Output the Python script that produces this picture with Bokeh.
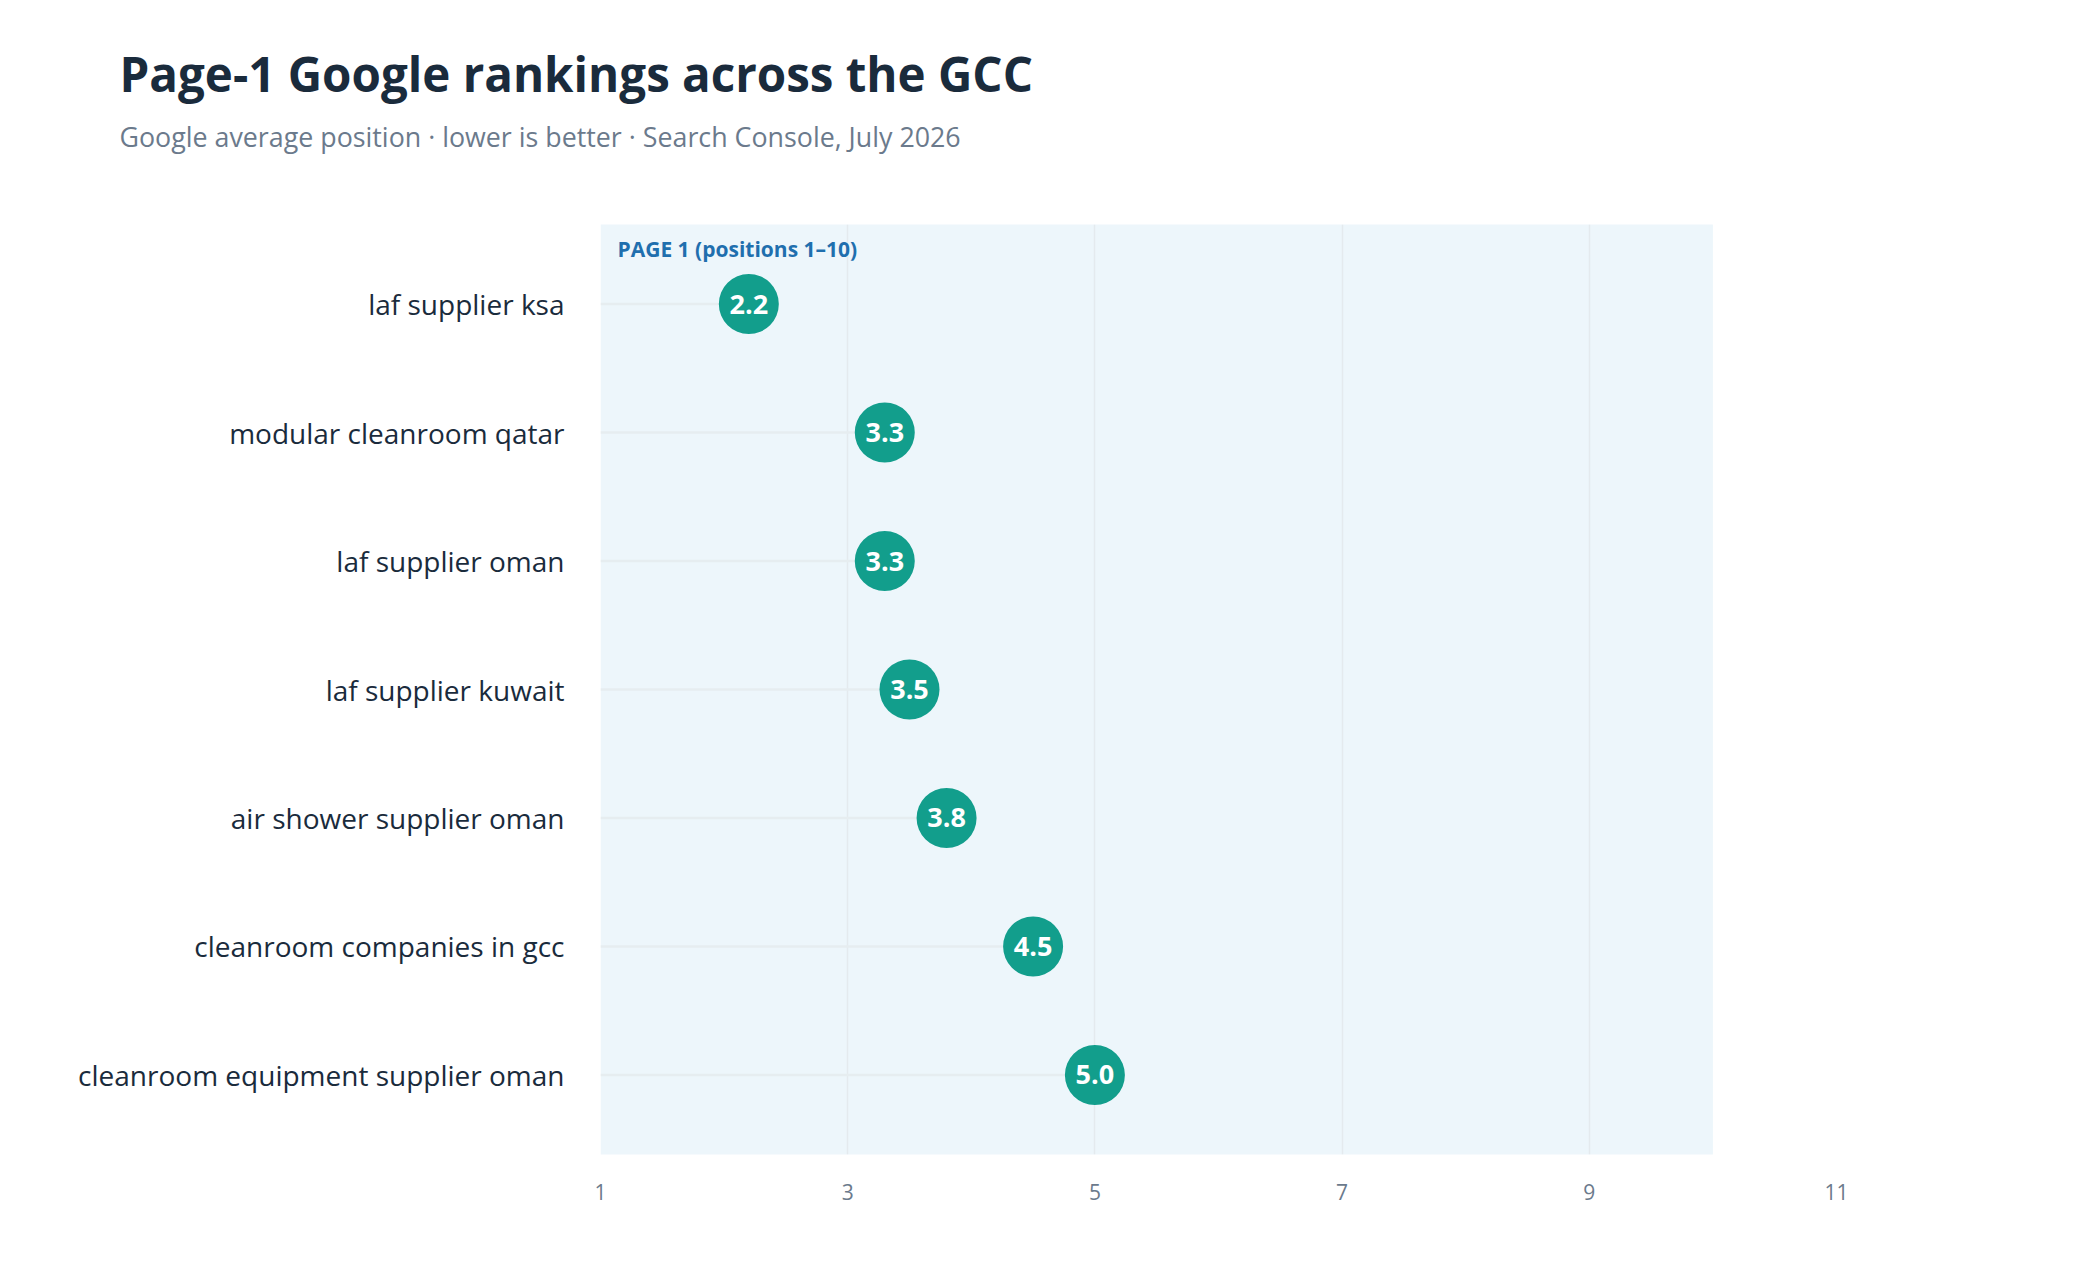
from bokeh.plotting import figure
from bokeh.models import FactorRange, Range1d, FixedTicker, Label, ColumnDataSource, Title
from bokeh.core.properties import value
from bokeh.embed import file_html
from bokeh.resources import INLINE

keywords = [
    "laf supplier ksa",
    "modular cleanroom qatar",
    "laf supplier oman",
    "laf supplier kuwait",
    "air shower supplier oman",
    "cleanroom companies in gcc",
    "cleanroom equipment supplier oman",
]
avg_position = [2.2, 3.3, 3.3, 3.5, 3.8, 4.5, 5.0]
x_ticks = [1, 3, 5, 7, 9, 11]
page1_start, page1_end = 1, 10

TITLE = "Page-1 Google rankings across the GCC"
SUBTITLE = "Google average position \u00b7 lower is better \u00b7 Search Console, July 2026"
BAND_LABEL = "PAGE 1 (positions 1\u201310)"

FONT = "Open Sans"
W, H = 2080, 1280
LEFT, RIGHT, TOP, BOTTOM = 600, 244, 224, 126

src = ColumnDataSource(dict(
    kw=keywords,
    pos=avg_position,
    start=[page1_start] * len(keywords),
    lbl=[f"{v:.1f}" for v in avg_position],
))

p = figure(
    width=W, height=H,
    x_range=Range1d(1, 11),
    y_range=FactorRange(factors=list(reversed(keywords)), range_padding=0.034),
    output_backend="svg", toolbar_location=None,
    min_border_left=LEFT, min_border_right=RIGHT,
    min_border_top=TOP, min_border_bottom=BOTTOM,
    background_fill_color="white", border_fill_color="white",
)
p.outline_line_color = None

# titles (p.title outermost; subtitle below it; spacer closest to the frame)
p.add_layout(Title(text=" ", text_font=FONT, text_font_size="39px", offset=LEFT - 119), "above")
p.add_layout(Title(text=SUBTITLE, text_font=FONT, text_font_size="26.8px", text_font_style="normal",
                   text_color="#6b7a8c", align="left", offset=-(LEFT - 119)), "above")
p.title.text = TITLE
p.title.text_font = FONT
p.title.text_font_size = "47.5px"
p.title.text_font_style = "bold"
p.title.text_color = "#1a2b3c"
p.title.align = "left"
p.title.offset = -(LEFT - 119)

# Page-1 band
p.quad(left=[page1_start], right=[page1_end], bottom=[-1], top=[len(keywords) + 1],
       fill_color="#edf6fb", line_color=None, level="image")

# stems
p.segment(x0="start", y0="kw", x1="pos", y1="kw", source=src,
          line_color="#e6edf0", line_width=2.5)

# dots
p.scatter(x="pos", y="kw", source=src, size=60, fill_color="#129e8c", line_color=None)
p.text(x="pos", y="kw", text="lbl", source=src, text_align="center", text_baseline="middle",
       text_color="white", text_font=value(FONT), text_font_style="bold",
       text_font_size="27px")

# axes
p.xaxis.ticker = FixedTicker(ticks=x_ticks)
p.xaxis.axis_line_color = None
p.xaxis.major_tick_line_color = None
p.xaxis.minor_tick_line_color = None
p.xaxis.major_tick_out = 0
p.xaxis.major_tick_in = 0
p.xaxis.major_label_standoff = 29
p.xaxis.major_label_text_font = FONT
p.xaxis.major_label_text_font_size = "21px"
p.xaxis.major_label_text_color = "#6b7a8c"

p.yaxis.axis_line_color = None
p.yaxis.major_tick_line_color = None
p.yaxis.minor_tick_line_color = None
p.yaxis.major_tick_out = 0
p.yaxis.major_tick_in = 0
p.yaxis.major_label_standoff = 36
p.yaxis.major_label_text_font = FONT
p.yaxis.major_label_text_font_size = "28px"
p.yaxis.major_label_text_color = "#1a2b3c"

p.xgrid.grid_line_color = "#e4eaee"
p.xgrid.grid_line_width = 1.5
p.ygrid.grid_line_color = None

frame_h = H - TOP - BOTTOM
p.add_layout(Label(x=page1_start, y=frame_h - 24, x_units="data", y_units="screen",
                   x_offset=17, text=BAND_LABEL, text_font=FONT, text_font_style="bold",
                   text_font_size="21px", text_color="#1f6fae", text_baseline="middle",
                   text_align="left"))

open("out.html", "w").write(file_html(p, INLINE))
